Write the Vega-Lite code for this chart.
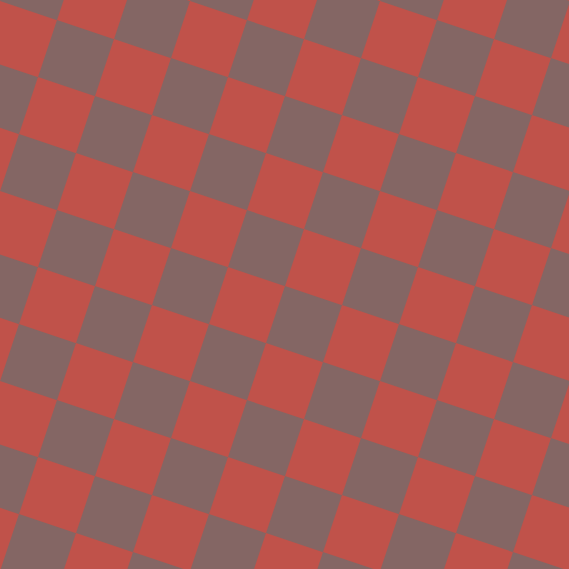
{
  "$schema": "https://vega.github.io/schema/vega-lite/v6.json",
  "autosize": {"type": "fit", "contains": "padding"},
  "width": 569,
  "height": 569,
  "padding": 0,
  "background": "#c0524a",
  "config": {"view": {"stroke": null}},
  "data": {
    "values": [
      {"x": 551.3, "y": -36.3, "c": "red"},
      {"x": 361.3, "y": -36.3, "c": "red"},
      {"x": 418.3, "y": -17.3, "c": "gray"},
      {"x": 475.3, "y": 1.7, "c": "red"},
      {"x": 532.3, "y": 20.7, "c": "gray"},
      {"x": 589.3, "y": 39.7, "c": "red"},
      {"x": 171.3, "y": -36.3, "c": "red"},
      {"x": 228.3, "y": -17.3, "c": "gray"},
      {"x": 285.3, "y": 1.7, "c": "red"},
      {"x": 342.3, "y": 20.7, "c": "gray"},
      {"x": 399.3, "y": 39.7, "c": "red"},
      {"x": 456.3, "y": 58.7, "c": "gray"},
      {"x": 513.3, "y": 77.7, "c": "red"},
      {"x": 570.3, "y": 96.7, "c": "gray"},
      {"x": -18.7, "y": -36.3, "c": "red"},
      {"x": 38.3, "y": -17.3, "c": "gray"},
      {"x": 95.3, "y": 1.7, "c": "red"},
      {"x": 152.3, "y": 20.7, "c": "gray"},
      {"x": 209.3, "y": 39.7, "c": "red"},
      {"x": 266.3, "y": 58.7, "c": "gray"},
      {"x": 323.3, "y": 77.7, "c": "red"},
      {"x": 380.3, "y": 96.7, "c": "gray"},
      {"x": 437.3, "y": 115.7, "c": "red"},
      {"x": 494.3, "y": 134.7, "c": "gray"},
      {"x": 551.3, "y": 153.7, "c": "red"},
      {"x": -37.7, "y": 20.7, "c": "gray"},
      {"x": 19.3, "y": 39.7, "c": "red"},
      {"x": 76.3, "y": 58.7, "c": "gray"},
      {"x": 133.3, "y": 77.7, "c": "red"},
      {"x": 190.3, "y": 96.7, "c": "gray"},
      {"x": 247.3, "y": 115.7, "c": "red"},
      {"x": 304.3, "y": 134.7, "c": "gray"},
      {"x": 361.3, "y": 153.7, "c": "red"},
      {"x": 418.3, "y": 172.7, "c": "gray"},
      {"x": 475.3, "y": 191.7, "c": "red"},
      {"x": 532.3, "y": 210.7, "c": "gray"},
      {"x": 589.3, "y": 229.7, "c": "red"},
      {"x": 0.3, "y": 96.7, "c": "gray"},
      {"x": 57.3, "y": 115.7, "c": "red"},
      {"x": 114.3, "y": 134.7, "c": "gray"},
      {"x": 171.3, "y": 153.7, "c": "red"},
      {"x": 228.3, "y": 172.7, "c": "gray"},
      {"x": 285.3, "y": 191.7, "c": "red"},
      {"x": 342.3, "y": 210.7, "c": "gray"},
      {"x": 399.3, "y": 229.7, "c": "red"},
      {"x": 456.3, "y": 248.7, "c": "gray"},
      {"x": 513.3, "y": 267.7, "c": "red"},
      {"x": 570.3, "y": 286.7, "c": "gray"},
      {"x": -18.7, "y": 153.7, "c": "red"},
      {"x": 38.3, "y": 172.7, "c": "gray"},
      {"x": 95.3, "y": 191.7, "c": "red"},
      {"x": 152.3, "y": 210.7, "c": "gray"},
      {"x": 209.3, "y": 229.7, "c": "red"},
      {"x": 266.3, "y": 248.7, "c": "gray"},
      {"x": 323.3, "y": 267.7, "c": "red"},
      {"x": 380.3, "y": 286.7, "c": "gray"},
      {"x": 437.3, "y": 305.7, "c": "red"},
      {"x": 494.3, "y": 324.7, "c": "gray"},
      {"x": 551.3, "y": 343.7, "c": "red"},
      {"x": -37.7, "y": 210.7, "c": "gray"},
      {"x": 19.3, "y": 229.7, "c": "red"},
      {"x": 76.3, "y": 248.7, "c": "gray"},
      {"x": 133.3, "y": 267.7, "c": "red"},
      {"x": 190.3, "y": 286.7, "c": "gray"},
      {"x": 247.3, "y": 305.7, "c": "red"},
      {"x": 304.3, "y": 324.7, "c": "gray"},
      {"x": 361.3, "y": 343.7, "c": "red"},
      {"x": 418.3, "y": 362.7, "c": "gray"},
      {"x": 475.3, "y": 381.7, "c": "red"},
      {"x": 532.3, "y": 400.7, "c": "gray"},
      {"x": 589.3, "y": 419.7, "c": "red"},
      {"x": 0.3, "y": 286.7, "c": "gray"},
      {"x": 57.3, "y": 305.7, "c": "red"},
      {"x": 114.3, "y": 324.7, "c": "gray"},
      {"x": 171.3, "y": 343.7, "c": "red"},
      {"x": 228.3, "y": 362.7, "c": "gray"},
      {"x": 285.3, "y": 381.7, "c": "red"},
      {"x": 342.3, "y": 400.7, "c": "gray"},
      {"x": 399.3, "y": 419.7, "c": "red"},
      {"x": 456.3, "y": 438.7, "c": "gray"},
      {"x": 513.3, "y": 457.7, "c": "red"},
      {"x": 570.3, "y": 476.7, "c": "gray"},
      {"x": -18.7, "y": 343.7, "c": "red"},
      {"x": 38.3, "y": 362.7, "c": "gray"},
      {"x": 95.3, "y": 381.7, "c": "red"},
      {"x": 152.3, "y": 400.7, "c": "gray"},
      {"x": 209.3, "y": 419.7, "c": "red"},
      {"x": 266.3, "y": 438.7, "c": "gray"},
      {"x": 323.3, "y": 457.7, "c": "red"},
      {"x": 380.3, "y": 476.7, "c": "gray"},
      {"x": 437.3, "y": 495.7, "c": "red"},
      {"x": 494.3, "y": 514.7, "c": "gray"},
      {"x": 551.3, "y": 533.7, "c": "red"},
      {"x": -37.7, "y": 400.7, "c": "gray"},
      {"x": 19.3, "y": 419.7, "c": "red"},
      {"x": 76.3, "y": 438.7, "c": "gray"},
      {"x": 133.3, "y": 457.7, "c": "red"},
      {"x": 190.3, "y": 476.7, "c": "gray"},
      {"x": 247.3, "y": 495.7, "c": "red"},
      {"x": 304.3, "y": 514.7, "c": "gray"},
      {"x": 361.3, "y": 533.7, "c": "red"},
      {"x": 418.3, "y": 552.7, "c": "gray"},
      {"x": 475.3, "y": 571.7, "c": "red"},
      {"x": 532.3, "y": 590.7, "c": "gray"},
      {"x": 0.3, "y": 476.7, "c": "gray"},
      {"x": 57.3, "y": 495.7, "c": "red"},
      {"x": 114.3, "y": 514.7, "c": "gray"},
      {"x": 171.3, "y": 533.7, "c": "red"},
      {"x": 228.3, "y": 552.7, "c": "gray"},
      {"x": 285.3, "y": 571.7, "c": "red"},
      {"x": 342.3, "y": 590.7, "c": "gray"},
      {"x": -18.7, "y": 533.7, "c": "red"},
      {"x": 38.3, "y": 552.7, "c": "gray"},
      {"x": 95.3, "y": 571.7, "c": "red"},
      {"x": 152.3, "y": 590.7, "c": "gray"},
      {"x": -37.7, "y": 590.7, "c": "gray"}
    ]
  },
  "mark": {
    "type": "point",
    "shape": "square",
    "filled": true,
    "opacity": 1,
    "strokeWidth": 0,
    "size": 3721,
    "angle": 18.43,
    "clip": true
  },
  "encoding": {
    "x": {"field": "x", "type": "quantitative", "axis": null,
          "scale": {"domain": [0, 569], "nice": false, "zero": false}},
    "y": {"field": "y", "type": "quantitative", "axis": null,
          "scale": {"domain": [0, 569], "nice": false, "zero": false, "reverse": true}},
    "color": {"field": "c", "type": "nominal", "legend": null,
              "scale": {"domain": ["red", "gray"], "range": ["#c0524a", "#846664"]}}
  }
}
